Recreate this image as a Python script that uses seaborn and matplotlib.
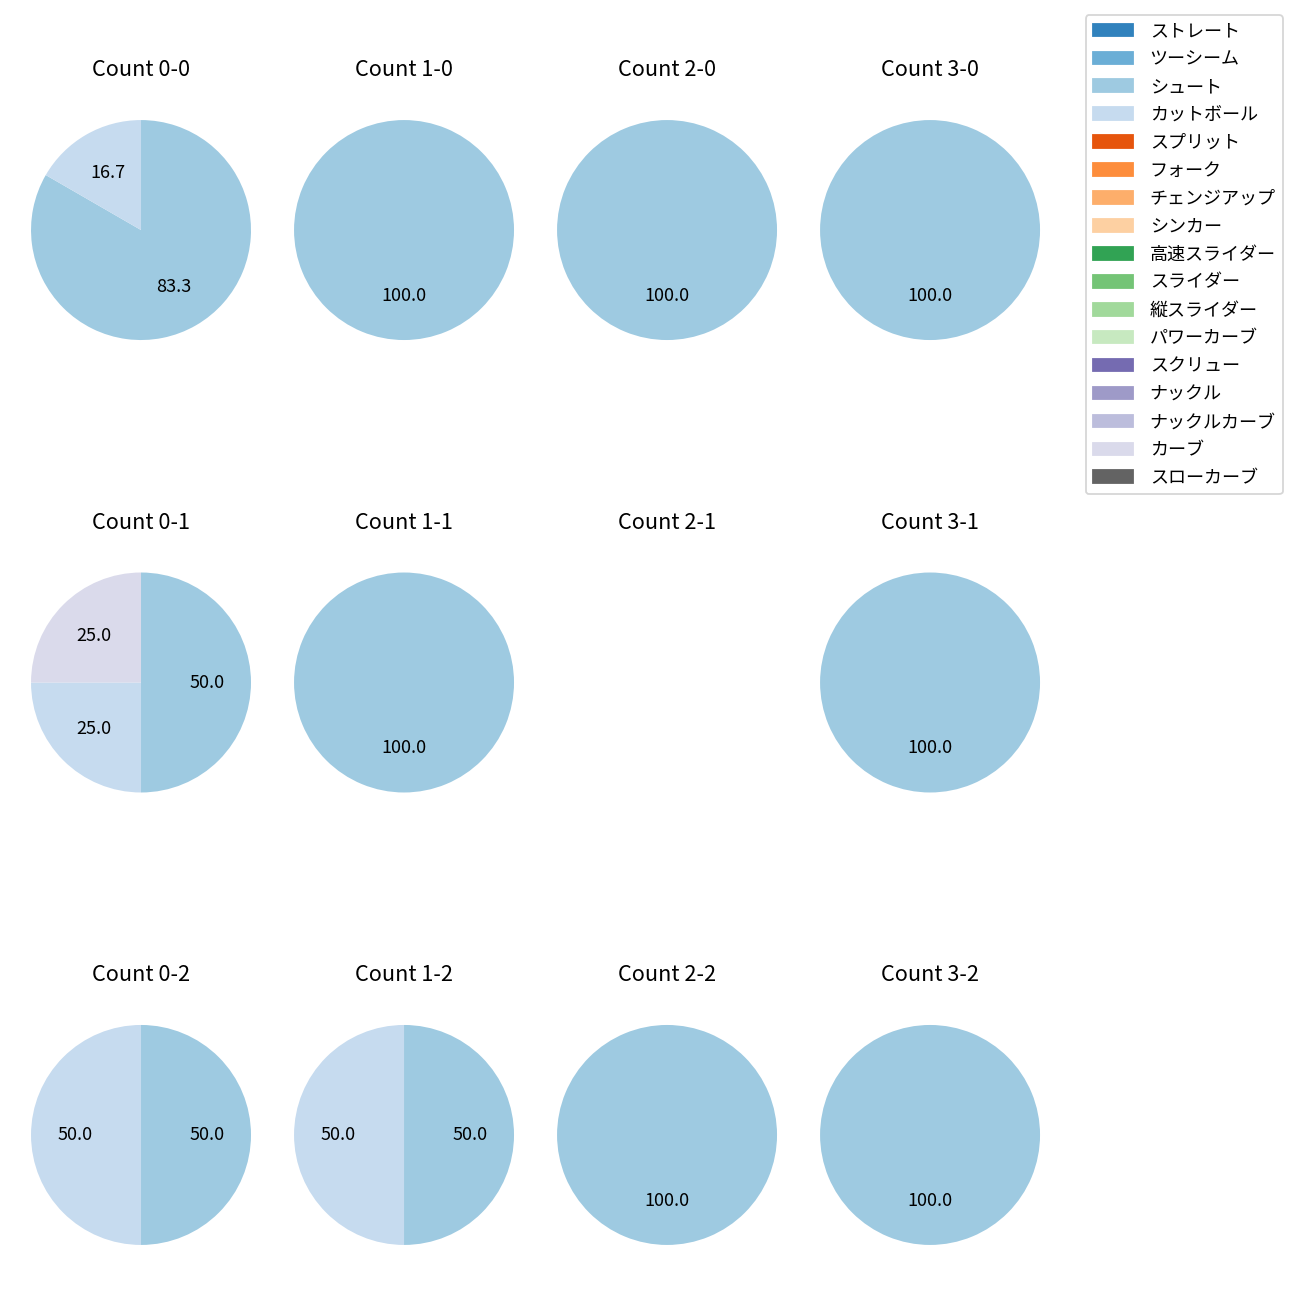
import matplotlib
matplotlib.use("Agg")
import matplotlib.pyplot as plt
import matplotlib.patches as mpatches
import seaborn as sns

# 球種（凡例の順番）
pitch_types = ['ストレート', 'ツーシーム', 'シュート', 'カットボール', 'スプリット',
               'フォーク', 'チェンジアップ', 'シンカー', '高速スライダー', 'スライダー',
               '縦スライダー', 'パワーカーブ', 'スクリュー', 'ナックル', 'ナックルカーブ',
               'カーブ', 'スローカーブ']

balls = [0, 1, 2, 3]
strikes = [0, 1, 2]

# カウント別の投球数（0球の球種は省略）
count_0_0 = {'シュート': 5, 'カットボール': 1}
count_1_0 = {'シュート': 1}
count_2_0 = {'シュート': 1}
count_3_0 = {'シュート': 1}
count_0_1 = {'シュート': 2, 'カットボール': 1, 'カーブ': 1}
count_1_1 = {'シュート': 1}
count_2_1 = {}
count_3_1 = {'シュート': 1}
count_0_2 = {'シュート': 1, 'カットボール': 1}
count_1_2 = {'シュート': 1, 'カットボール': 1}
count_2_2 = {'シュート': 1}
count_3_2 = {'シュート': 1}

counts = {
    (0, 0): count_0_0, (1, 0): count_1_0, (2, 0): count_2_0, (3, 0): count_3_0,
    (0, 1): count_0_1, (1, 1): count_1_1, (2, 1): count_2_1, (3, 1): count_3_1,
    (0, 2): count_0_2, (1, 2): count_1_2, (2, 2): count_2_2, (3, 2): count_3_2,
}

palette = sns.color_palette("tab20c", 20)[:len(pitch_types)]
color_map = dict(zip(pitch_types, palette))

plt.rcParams['font.family'] = ['Noto Sans CJK JP', 'DejaVu Sans']

fig, axes = plt.subplots(3, 4, figsize=(10, 10), dpi=130)
fig.subplots_adjust(left=0.0027, right=0.8212, top=0.9288, bottom=0.0212,
                    wspace=-0.0436, hspace=0.6455)

for s in strikes:
    for b in balls:
        ax = axes[s, b]
        data = counts[(b, s)]
        ax.set_title(f'Count {b}-{s}', pad=9)
        if not data:
            ax.axis('off')
            continue
        labels = [p for p in pitch_types if data.get(p, 0) > 0]
        values = [data[p] for p in labels]
        ax.pie(values, colors=[color_map[p] for p in labels], startangle=90,
               counterclock=False, autopct='%.1f', pctdistance=0.6)
        ax.set_aspect('equal')

handles = [mpatches.Patch(color=color_map[p], label=p) for p in pitch_types]
fig.legend(handles=handles, loc='upper right', bbox_to_anchor=(0.9938, 0.9954),
           handlelength=2.2, handletextpad=0.95, labelspacing=0.55)

plt.savefig('out.png')
